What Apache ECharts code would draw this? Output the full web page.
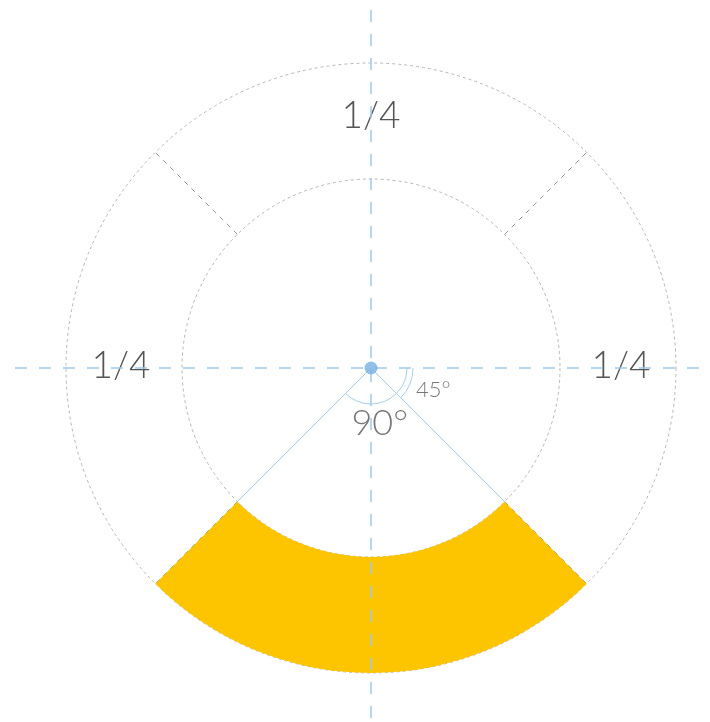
<!DOCTYPE html>
<html>
<head>
<meta charset="utf-8">
<script src="https://cdn.jsdelivr.net/npm/echarts@6/dist/echarts.min.js"></script>
<style>html,body{margin:0;padding:0;background:#fff}#c{width:710px;height:722px}</style>
</head>
<body>
<div id="c"></div>
<script>
// Ring quarters (clockwise from the top-left edge): top, right, bottom, left
var quarterNames = ['top', 'right', 'bottom', 'left'];
var quarterValues = [1, 1, 1, 1];
var quarterLabels = ['1/4', '1/4', '', '1/4'];
var highlightedQuarter = 2;
// Radii of the ring (px, in polar units)
var ringRadii = [189, 305];
// Quarter boundary angles (degrees, counter-clockwise from east)
var boundaryAngles = [45, 135, 225, 315];
// Radial guide lines from center to inner ring: [radius, angle]
var guideLines = [[189, 225], [0, 0], [189, 315]];
// Angle marker arcs: [radius, startAngle, endAngle]
var markerArcs = [[36, 225, 315], [36, 315, 360], [42, 315, 360]];
// Angle marker texts: [radius, angle, text, fontSize]
var markerTexts = [[56, 279, '90°', 36], [66, 341, '45°', 22]];
// Axis cross: [radius, angle] endpoints
var crossH = [[356, 180], [334, 0]];
var crossV = [[358, 90], [352, 270]];

var CX = 371, CY = 368;
var chart = echarts.init(document.getElementById('c'), null, {renderer: 'canvas'});
var blue = '#9fcaea';
var font = 'Lato, "Open Sans", sans-serif';

function pxRadius(api, r) {
  var c = api.coord([0, 0]);
  var p = api.coord([r, 0]);
  return Math.abs(p[0] - c[0]);
}

var option = {
  animation: false,
  polar: {center: [CX, CY], radius: 360},
  angleAxis: {
    type: 'value', min: 0, max: 360, startAngle: 0, clockwise: false,
    axisLine: {show: false}, axisTick: {show: false}, axisLabel: {show: false},
    splitLine: {show: false}
  },
  radiusAxis: {
    type: 'value', min: 0, max: 360,
    axisLine: {show: false}, axisTick: {show: false}, axisLabel: {show: false},
    splitLine: {show: false}
  },
  series: [
    {
      // dashed ring circles
      type: 'custom', coordinateSystem: 'polar', silent: true, z: 1,
      data: ringRadii.map(function (r) { return [r, 0]; }),
      renderItem: function (params, api) {
        var c = api.coord([0, 0]);
        return {
          type: 'circle',
          shape: {cx: c[0], cy: c[1], r: pxRadius(api, api.value(0))},
          style: {stroke: '#b5b5b5', lineWidth: 1, fill: null, lineDash: [3, 3]}
        };
      }
    },
    {
      // dashed quarter boundaries
      type: 'custom', coordinateSystem: 'polar', silent: true, z: 1,
      data: boundaryAngles.map(function (a) { return [ringRadii[0], a, ringRadii[1]]; }),
      renderItem: function (params, api) {
        var p1 = api.coord([api.value(0), api.value(1)]);
        var p2 = api.coord([api.value(2), api.value(1)]);
        return {
          type: 'line',
          shape: {x1: p1[0], y1: p1[1], x2: p2[0], y2: p2[1]},
          style: {stroke: '#999', lineWidth: 1, lineDash: [5, 5]}
        };
      }
    },
    {
      type: 'pie', center: [CX, CY], radius: ringRadii,
      startAngle: 135, clockwise: true, silent: true, z: 2,
      emphasis: {disabled: true},
      label: {
        show: true, position: 'inside',
        formatter: function (p) { return quarterLabels[p.dataIndex]; },
        fontSize: 37, fontWeight: 300, color: '#555', fontFamily: font,
        offset: [0, -2]
      },
      labelLine: {show: false},
      data: quarterValues.map(function (v, i) {
        return {
          name: quarterNames[i], value: v,
          itemStyle: {color: i === highlightedQuarter ? '#fdc500' : 'rgba(0,0,0,0)', borderWidth: 0}
        };
      })
    },
    {
      type: 'line', coordinateSystem: 'polar', data: guideLines, symbol: 'none', silent: true, z: 3,
      lineStyle: {color: '#a9cde9', width: 1}
    },
    {
      type: 'line', coordinateSystem: 'polar', data: crossH, symbol: 'none', silent: true, z: 4,
      lineStyle: {color: blue, width: 1.5, type: [12, 12]}
    },
    {
      type: 'line', coordinateSystem: 'polar', data: crossV, symbol: 'none', silent: true, z: 4,
      lineStyle: {color: blue, width: 1.5, type: [12, 12]}
    },
    {
      type: 'custom', coordinateSystem: 'polar', silent: true, z: 5,
      data: markerArcs,
      renderItem: function (params, api) {
        var c = api.coord([0, 0]);
        var rp = pxRadius(api, api.value(0));
        var a1 = api.value(1) * Math.PI / 180, a2 = api.value(2) * Math.PI / 180;
        return {
          type: 'arc',
          shape: {cx: c[0], cy: c[1], r: rp, startAngle: -a2, endAngle: -a1, clockwise: true},
          style: {stroke: '#a9cde9', lineWidth: 1, fill: null}
        };
      }
    },
    {
      type: 'scatter', coordinateSystem: 'polar', silent: true, z: 6,
      data: markerTexts.map(function (d) {
        return {value: [d[0], d[1]], txt: d[2], label: {fontSize: d[3]}};
      }),
      symbolSize: 1, itemStyle: {color: 'rgba(0,0,0,0)'},
      label: {
        show: true, position: 'inside', color: '#555', fontFamily: font, fontWeight: 300,
        formatter: function (p) { return p.data.txt; }
      },
      emphasis: {disabled: true}
    },
    {
      type: 'scatter', coordinateSystem: 'polar', silent: true, z: 7,
      data: [[0, 0]], symbolSize: 13, itemStyle: {color: '#78b0e4'},
      emphasis: {disabled: true}
    }
  ]
};
chart.setOption(option);
</script>
</body>
</html>
